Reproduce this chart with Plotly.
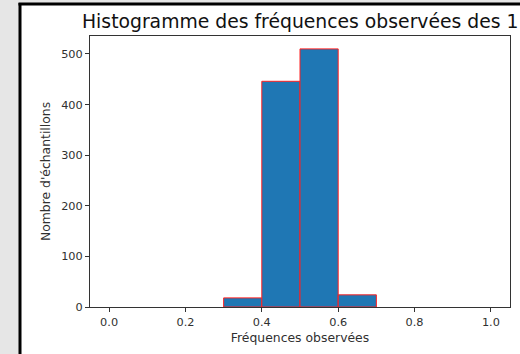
import plotly.graph_objects as go

# Histogram data (bins of width 0.1 from 0 to 1)
bin_starts = [0.0, 0.1, 0.2, 0.3, 0.4, 0.5, 0.6, 0.7, 0.8, 0.9]
counts = [0, 0, 0, 18, 446, 510, 24, 0, 0, 0]
bin_width = 0.1
x_ticks = [0.0, 0.2, 0.4, 0.6, 0.8, 1.0]
x_tick_labels = ["0.0", "0.2", "0.4", "0.6", "0.8", "1.0"]
y_ticks = [0, 100, 200, 300, 400, 500]

# empty bins are hidden by the bottom spine in the original
centers = [s + bin_width / 2 for s, c in zip(bin_starts, counts) if c > 0]
heights = [c for c in counts if c > 0]

fig = go.Figure()
fig.add_trace(go.Bar(
    x=centers, y=heights, width=[bin_width] * len(heights),
    marker=dict(color="#1f77b4", line=dict(color="#ff2020", width=1)),
    showlegend=False, hoverinfo="skip",
))

W, H = 520, 354
L, R, T, B = 90, 10, 36, 47
pw, ph = W - L - R, H - T - B

def px_to_paper_x(px):
    return (px - L) / pw

def px_to_paper_y(py):
    return (H - B - py) / ph

# grey slide background on the left
fig.add_shape(type="rect", xref="paper", yref="paper",
              x0=px_to_paper_x(-10), x1=px_to_paper_x(19),
              y0=px_to_paper_y(400), y1=px_to_paper_y(-10),
              fillcolor="#e6e6e6", line=dict(width=0), layer="below")
fig.add_shape(type="rect", xref="paper", yref="paper",
              x0=px_to_paper_x(-10), x1=px_to_paper_x(560),
              y0=px_to_paper_y(3), y1=px_to_paper_y(-10),
              fillcolor="#e6e6e6", line=dict(width=0), layer="below")
# black frame lines
fig.add_shape(type="line", xref="paper", yref="paper",
              x0=px_to_paper_x(20), x1=px_to_paper_x(20),
              y0=px_to_paper_y(400), y1=px_to_paper_y(3),
              line=dict(color="black", width=3), layer="below")
fig.add_shape(type="line", xref="paper", yref="paper",
              x0=px_to_paper_x(18.5), x1=px_to_paper_x(560),
              y0=px_to_paper_y(4), y1=px_to_paper_y(4),
              line=dict(color="black", width=3), layer="below")

fig.add_annotation(text="Histogramme des fréquences observées des 1",
                   xref="paper", yref="paper", x=0.5, y=px_to_paper_y(21),
                   xanchor="center", yanchor="middle", showarrow=False,
                   font=dict(family="DejaVu Sans", size=18.8, color="#111111"))

axis_common = dict(showline=True, linecolor="#333333", linewidth=1, mirror=True,
                   ticks="outside", ticklen=4, tickcolor="#333333", tickwidth=1,
                   showgrid=False, zeroline=False,
                   tickfont=dict(family="DejaVu Sans", size=11.3, color="#303030"))

fig.update_xaxes(range=[-0.05, 1.05], tickvals=x_ticks, ticktext=x_tick_labels,
                 title=dict(text="Fréquences observées", standoff=5,
                            font=dict(family="DejaVu Sans", size=12.4, color="#303030")),
                 **axis_common)
fig.update_yaxes(range=[0, 535.5], tickvals=y_ticks,
                 title=dict(text="Nombre d'échantillons", standoff=7,
                            font=dict(family="DejaVu Sans", size=12.4, color="#303030")),
                 **axis_common)

fig.update_layout(width=W, height=H, margin=dict(l=L, r=R, t=T, b=B),
                  paper_bgcolor="white", plot_bgcolor="white", bargap=0,
                  hovermode=False)

fig.write_html(
    "out.html",
    config={"displayModeBar": False, "staticPlot": True},
    post_script=(
        "var st=document.createElement('style');"
        "st.textContent='html,body{margin:0;padding:0;overflow:hidden;scrollbar-width:none;background:#fff}"
        "::-webkit-scrollbar{display:none;width:0;height:0}';"
        "document.head.appendChild(st);"
    ),
)
